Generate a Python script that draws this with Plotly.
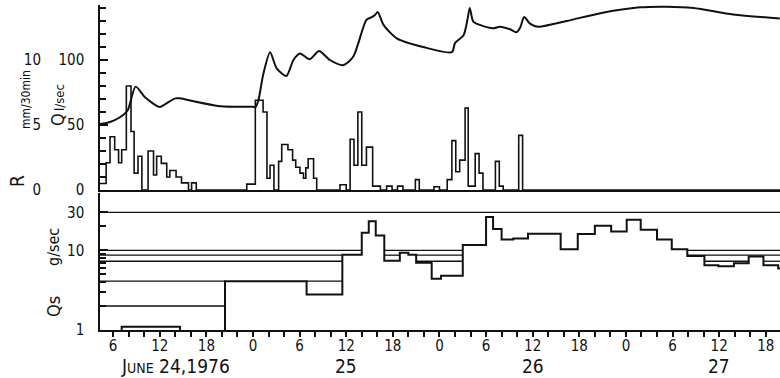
import plotly.graph_objects as go

W, H = 780, 378
FONT = "Liberation Sans Narrow, DejaVu Sans Condensed, Arial Narrow, Liberation Sans, sans-serif"
INK = "#111111"

# ---------------- data (time = hours since 1976-06-24 00:00) ----------------
# Discharge Q (l/sec)
q_hours = [4.3, 5.0, 6.2, 7.3, 7.9, 8.9, 10.1, 12.0, 12.7, 14.0, 14.6, 16.5, 19.5, 21.4,
           24.0, 24.3, 24.7, 25.3, 26.2, 27.05, 28.3, 29.2, 30.05, 31.3, 32.5, 33.9,
           35.6, 36.9, 38.6, 39.3, 39.7, 40.05, 40.8, 42.5, 45.9, 49.6, 50.0, 51.1,
           51.6, 51.9, 52.35, 53.2, 54.9, 55.8, 57.1, 57.9, 58.4, 58.9, 59.65, 60.7,
           64.4, 68.7, 73.8, 77.2, 80.7, 85.8, 91.8]
q_vals = [50.8, 51.3, 53.8, 57.7, 61.5, 79.5, 71.3, 63.8, 66.0, 70.5, 70.5, 68.0, 64.6, 64.0,
          64.0, 63.6, 69.0, 88.5, 106.0, 93.6, 87.7, 100.0, 105.0, 100.5, 107.0, 100.0,
          96.0, 102.5, 130.8, 133.0, 134.6, 137.0, 127.0, 116.7, 110.0, 106.0, 113.0, 119.0,
          131.0, 140.0, 129.5, 127.0, 124.4, 125.6, 123.6, 121.3, 125.0, 133.0, 128.0, 125.6,
          130.0, 136.0, 140.5, 141.0, 140.0, 135.0, 132.0]

# Rainfall R (mm/30min): step starts and values
r_start = [4.3, 5.1, 5.6, 6.2, 6.7, 7.1, 7.7, 8.3, 8.7, 9.2, 9.7, 10.5, 11.2, 11.6, 12.2,
           12.9, 13.3, 14.1, 14.8, 15.7, 16.1, 16.7,
           23.2, 24.3, 25.3, 25.8, 26.2, 26.7, 27.3, 27.7, 28.5, 29.1, 29.5, 30.05, 30.5,
           30.8, 31.1, 31.8, 32.2,
           35.2, 36.0, 36.5, 37.0, 37.5, 38.0, 38.6, 39.4, 40.4, 41.2, 41.9, 42.6, 43.3,
           44.9, 45.4, 47.3, 48.0, 49.0, 49.6, 50.1, 50.6, 51.3, 51.7, 52.6, 53.1, 53.6,
           55.2, 55.7, 56.2, 58.2, 58.7, 91.9]
r_vals = [0.5, 2.1, 4.1, 3.1, 2.1, 3.1, 8.0, 4.5, 1.3, 2.6, 0, 3.0, 1.15, 2.6, 2.05,
          1.0, 1.5, 1.0, 0.55, 0, 0.55, 0,
          0.45, 6.9, 6.0, 0.9, 1.9, 0, 2.2, 3.5, 3.1, 2.3, 1.75, 1.3, 0.9,
          1.7, 2.4, 0.9, 0,
          0.4, 0, 3.9, 1.9, 6.0, 1.9, 3.3, 0.3, 0, 0.3, 0, 0.3, 0,
          0.8, 0, 0.25, 0, 0.8, 3.8, 1.4, 2.3, 6.3, 0.3, 2.8, 1.3, 0,
          2.2, 0.3, 0, 4.2, 0, 0]

# Sediment discharge Qs (g/sec): step starts and values
qs_start = [4.3, 7.1, 14.6, 20.4, 30.9, 35.5, 38.0, 38.9, 39.8, 40.9, 42.9, 44.0, 45.0,
            47.0, 48.2, 51.0, 54.0, 54.9, 56.0, 57.5, 59.4, 63.6, 65.8, 68.0, 70.1,
            72.1, 73.9, 76.0, 77.9, 79.9, 82.1, 83.9, 85.9, 87.8, 89.7, 91.6]
qs_vals = [0.9, 1.1, 0.9, 4.1, 2.8, 8.8, 16.6, 23.2, 15.4, 7.4, 9.3, 8.8, 7.0,
           4.4, 4.8, 11.7, 26.2, 18.6, 13.7, 14.1, 16.1, 10.3, 16.0, 20.4, 17.2,
           24.3, 18.2, 13.7, 10.3, 8.5, 6.5, 6.3, 6.9, 8.4, 6.5, 5.9]
qs_end = 92.0
# reference levels drawn above the Qs curve
qs_levels = [2.0, 4.1, 7.3, 8.7, 10.0, 30.0]

# axis labels
hour_ticks = [6, 12, 18, 24, 30, 36, 42, 48, 54, 60, 66, 72, 78, 84, 90]
hour_text = ["6", "12", "18", "0", "6", "12", "18", "0", "6", "12", "18", "0", "6", "12", "18"]
day_labels = ["J<span style='font-size:14px'>UNE</span> 24,1976", "25", "26", "27"]
day_label_hours = [14.0, 36.0, 60.0, 84.0]

# ---------------- layout geometry (pixels) ----------------
X0 = 100          # left spine
MT, MB = 5, 48
PH = H - MT - MB
def py(pix):      # pixel y -> paper y
    return (H - MB - pix) / PH
def px(pix):
    return pix / W

XR = [4.31, 91.83]

fig = go.Figure()

fig.add_trace(go.Scatter(x=q_hours, y=q_vals, mode="lines", xaxis="x", yaxis="y",
                         line=dict(color=INK, width=2, shape="spline", smoothing=0.7),
                         showlegend=False, hoverinfo="skip"))

fig.add_trace(go.Scatter(x=r_start, y=r_vals, mode="lines", xaxis="x", yaxis="y3",
                         line=dict(color=INK, width=1.6, shape="hv"),
                         showlegend=False, hoverinfo="skip"))

# level lines visible only where the Qs curve lies below them
ends = qs_start[1:] + [qs_end]
for lev in qs_levels:
    xs, ys = [], []
    seg = None
    for s, e, v in zip(qs_start, ends, qs_vals):
        if v < lev:
            if seg is None:
                seg = [s, e]
            else:
                seg[1] = e
        else:
            if seg is not None:
                xs += [seg[0], seg[1], None]; ys += [lev, lev, None]
                seg = None
    if seg is not None:
        xs += [seg[0], seg[1], None]; ys += [lev, lev, None]
    fig.add_trace(go.Scatter(x=xs, y=ys, mode="lines", xaxis="x2", yaxis="y2",
                             line=dict(color=INK, width=1.3),
                             showlegend=False, hoverinfo="skip"))

fig.add_trace(go.Scatter(x=qs_start + [qs_end], y=qs_vals + [qs_vals[-1]], mode="lines",
                         xaxis="x2", yaxis="y2",
                         line=dict(color=INK, width=2, shape="hv"),
                         showlegend=False, hoverinfo="skip"))

dom_x = [px(X0), 1.0]
axfont = dict(family=FONT, size=15, color=INK)

fig.update_layout(
    width=W, height=H,
    margin=dict(l=0, r=0, t=MT, b=MB),
    paper_bgcolor="white", plot_bgcolor="white",
    font=dict(family=FONT, color=INK),
    xaxis=dict(domain=dom_x, range=XR, anchor="y", showline=True, linecolor=INK,
               linewidth=1.5, ticks="", showticklabels=False, showgrid=False,
               zeroline=False),
    yaxis=dict(domain=[py(190), 1.0], range=[0, 142.3], anchor="x", showline=True,
               linecolor=INK, linewidth=1.5, ticks="inside", ticklen=8, tickwidth=1.5,
               tickcolor=INK, tickvals=[0, 50, 100], ticktext=["0", "50", "100"],
               minor=dict(dtick=10, tick0=0, ticks="inside", ticklen=6, tickwidth=1.5,
                          tickcolor=INK),
               ticklabelstandoff=11, tickfont=axfont, showgrid=False, zeroline=False),
    yaxis3=dict(overlaying="y", anchor="free", position=px(41), side="left",
                range=[0, 14.23], tickvals=[0, 5, 10], ticktext=["0", "5", "10"],
                showline=False, ticks="", showgrid=False, zeroline=False,
                tickfont=axfont),
    xaxis2=dict(domain=dom_x, range=XR, anchor="y2", matches="x", showline=True,
                linecolor=INK, linewidth=1.5, ticks="outside", ticklen=5, tickwidth=1.5,
                tickcolor=INK, tickvals=hour_ticks, ticktext=hour_text,
                minor=dict(dtick=2, tick0=0, ticks="outside", ticklen=5, tickwidth=1.5,
                           tickcolor=INK),
                ticklabelstandoff=-4,
                tickfont=dict(family=FONT, size=15, color=INK), showgrid=False,
                zeroline=False),
    yaxis2=dict(domain=[0, py(193)], type="log", range=[0, 1.72], anchor="x2",
                showline=True, linecolor=INK, linewidth=1.5, ticks="inside", ticklen=8,
                tickwidth=1.5, tickcolor=INK, tickvals=[1, 10, 30],
                ticktext=["1", "10", "30"],
                minor=dict(tickvals=[2, 3, 4, 5, 6, 7, 8, 9, 20], ticks="inside",
                           ticklen=6, tickwidth=1.5, tickcolor=INK),
                ticklabelstandoff=11, tickfont=axfont, showgrid=False, zeroline=False),
)

ann = []
def label(text, xp, yp, size, angle=-90):
    ann.append(dict(text=text, x=px(xp), y=py(yp), xref="paper", yref="paper",
                    showarrow=False, textangle=angle, xanchor="center", yanchor="middle",
                    font=dict(family=FONT, size=size, color=INK)))

label("R", 17, 181, 19)
label("mm/30min", 26, 100, 12)
label("Q", 58, 120, 18)
label("l/sec", 59, 97, 13)
label("Qs", 53, 306, 18)
label("g/sec", 53, 247, 16)

for t, h in zip(day_labels, day_label_hours):
    ann.append(dict(text=t, x=h, y=py(366), xref="x2", yref="paper", showarrow=False,
                    xanchor="center", yanchor="middle",
                    font=dict(family=FONT, size=19, color=INK)))

fig.update_layout(annotations=ann)
fig.write_html("out.html")
